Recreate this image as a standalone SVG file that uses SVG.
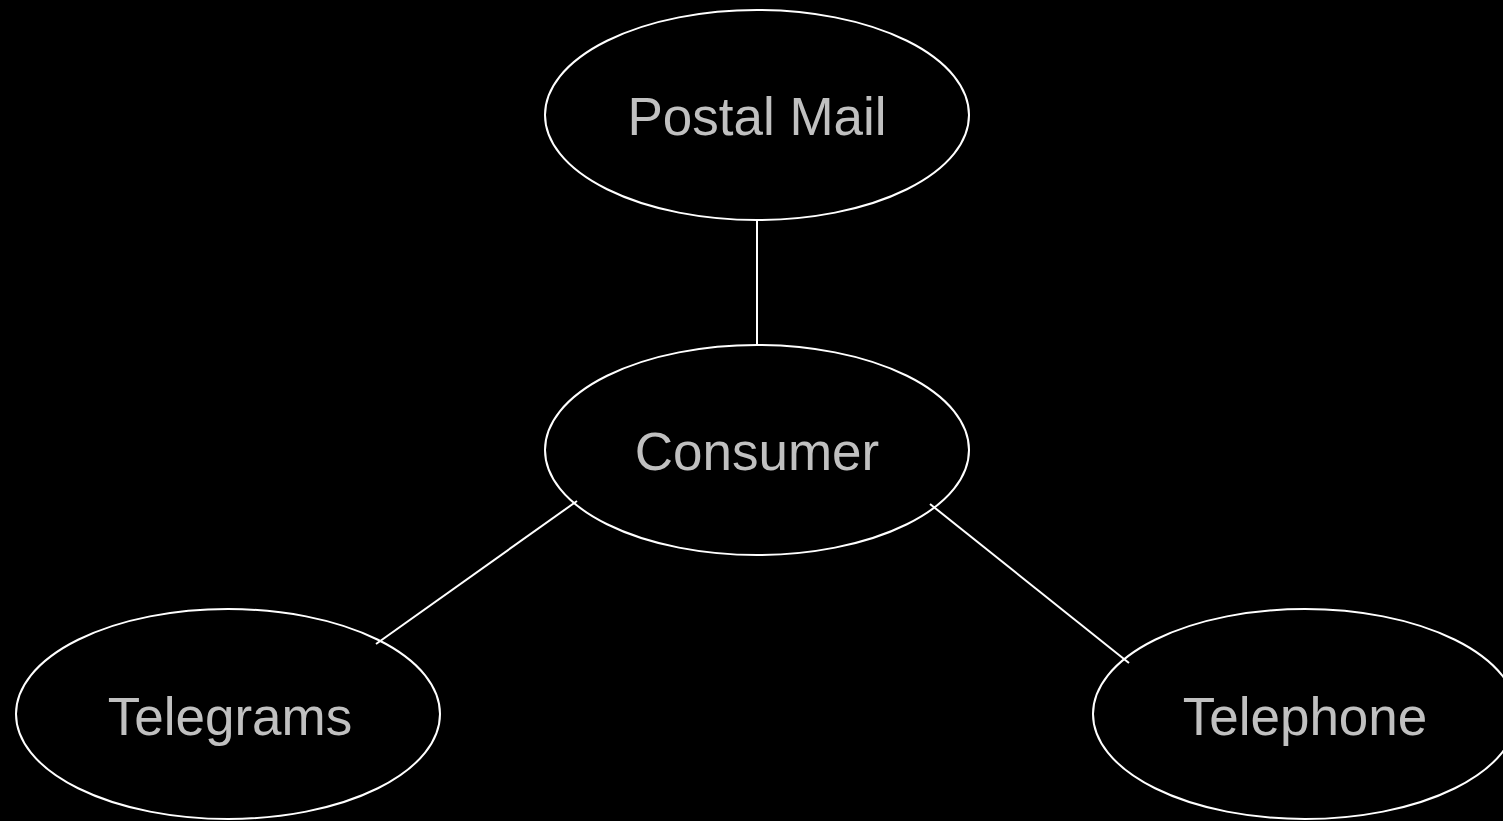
<svg xmlns="http://www.w3.org/2000/svg" width="1503" height="821" viewBox="0 0 1503 821">
<style>
.n{fill:none;stroke:#fff;stroke-width:2}
.t{font-family:"Liberation Sans",Arial,sans-serif;font-size:53px;fill:#c0c0c0;text-anchor:middle}
.c{stroke:#fff;stroke-width:2;fill:none}
</style>
<rect width="1503" height="821" fill="#000"/>
<g id="postal-mail">
<ellipse class="n" cx="757" cy="115" rx="212" ry="105"/>
<text class="t" x="757" y="135">Postal Mail</text>
</g>
<g id="consumer">
<ellipse class="n" cx="757" cy="450" rx="212" ry="105"/>
<text class="t" x="757" y="470">Consumer</text>
</g>
<g id="telegrams">
<ellipse class="n" cx="228" cy="714" rx="212" ry="105"/>
<text class="t" x="230" y="735">Telegrams</text>
</g>
<g id="telephone">
<ellipse class="n" cx="1305" cy="714" rx="212" ry="105"/>
<text class="t" x="1305" y="735">Telephone</text>
</g>
<g id="connectors">
<line class="c" x1="757" y1="220" x2="757" y2="345"/>
<line class="c" x1="577" y1="501" x2="376" y2="644"/>
<line class="c" x1="930" y1="504" x2="1129" y2="663"/>
</g>
</svg>
